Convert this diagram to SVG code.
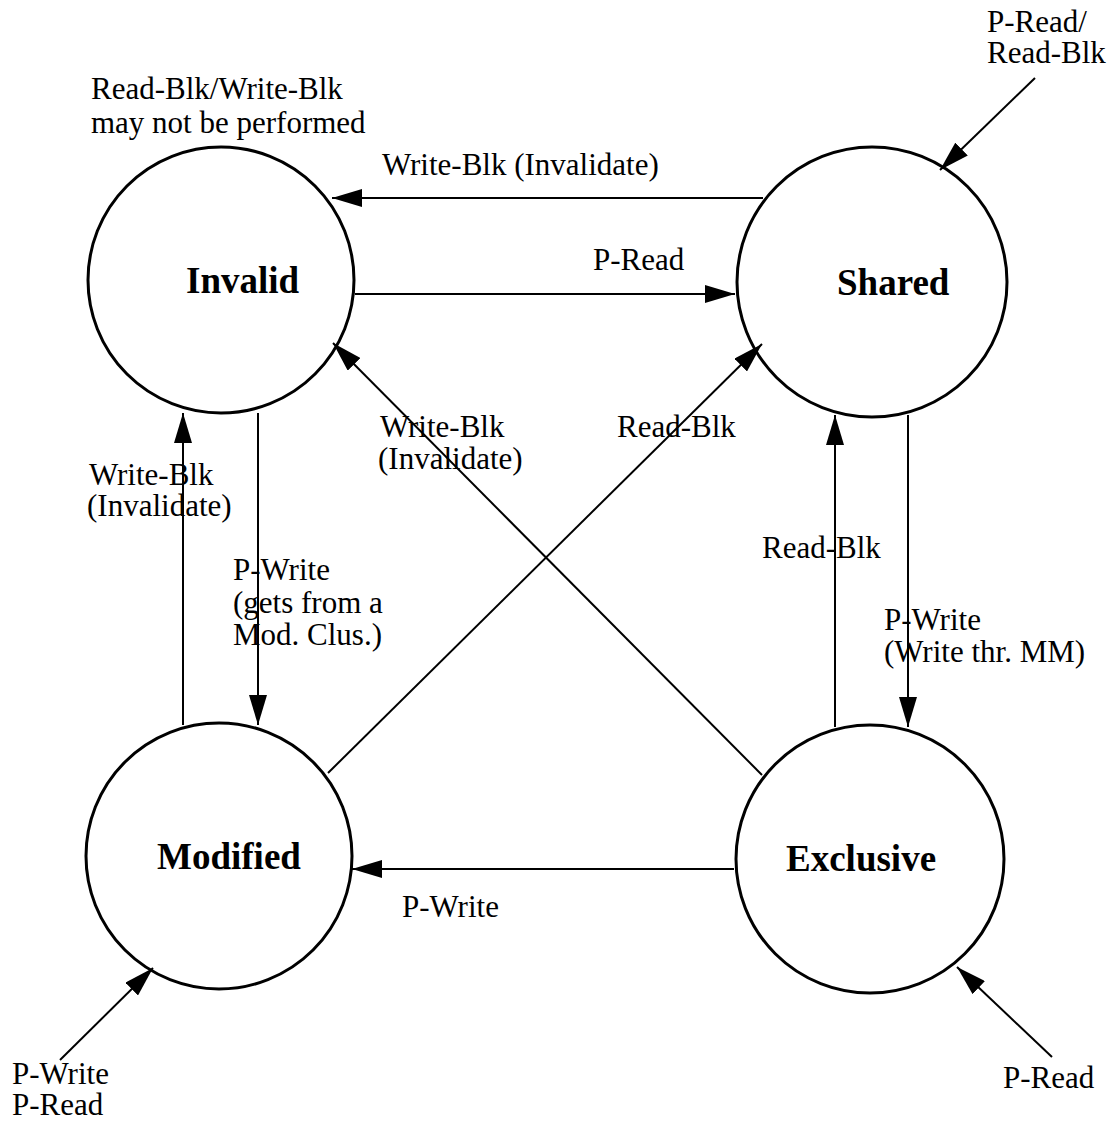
<svg xmlns="http://www.w3.org/2000/svg" width="1117" height="1122" viewBox="0 0 1117 1122">
  <style>
    .state { fill: #fff; stroke: #000; stroke-width: 3; }
    .name { font-family: "Liberation Serif", "Times New Roman", serif; font-weight: bold; font-size: 37px; fill: #000; }
    .lbl { font-family: "Liberation Serif", "Times New Roman", serif; font-size: 31px; fill: #000; }
    .edge { stroke: #000; stroke-width: 2; fill: none; marker-end: url(#ah); }
  </style>
  <defs>
    <marker id="ah" markerUnits="userSpaceOnUse" markerWidth="30" markerHeight="18" refX="30" refY="9" orient="auto">
      <path d="M0,0 L30,9 L0,18 Z" fill="#000"/>
    </marker>
  </defs>
  <rect width="1117" height="1122" fill="#fff"/>

  <!-- states -->
  <g id="invalid">
    <circle class="state" cx="221" cy="280" r="133"/>
    <text class="name" x="186" y="293">Invalid</text>
  </g>
  <g id="shared">
    <circle class="state" cx="872" cy="282" r="135"/>
    <text class="name" x="837" y="295">Shared</text>
  </g>
  <g id="modified">
    <circle class="state" cx="219" cy="856" r="133"/>
    <text class="name" x="157" y="869">Modified</text>
  </g>
  <g id="exclusive">
    <circle class="state" cx="870" cy="859" r="134"/>
    <text class="name" x="786" y="871">Exclusive</text>
  </g>

  <!-- transitions -->
  <g id="connectors">
    <line class="edge" x1="763" y1="198" x2="332" y2="198"/>
    <line class="edge" x1="355" y1="294" x2="735" y2="294"/>
    <line class="edge" x1="183" y1="725" x2="183" y2="413"/>
    <line class="edge" x1="258" y1="413" x2="258" y2="725"/>
    <line class="edge" x1="835" y1="727" x2="835" y2="415"/>
    <line class="edge" x1="908" y1="415" x2="908" y2="727"/>
    <line class="edge" x1="734" y1="869" x2="352" y2="869"/>
    <line class="edge" x1="762" y1="775" x2="333" y2="343"/>
    <line class="edge" x1="328" y1="773" x2="762" y2="344"/>
    <line class="edge" x1="1035" y1="78" x2="940" y2="170"/>
    <line class="edge" x1="60" y1="1060" x2="153" y2="968"/>
    <line class="edge" x1="1052" y1="1057" x2="957" y2="967"/>
  </g>

  <!-- labels -->
  <g id="labels">
    <text class="lbl" x="91" y="99">Read-Blk/Write-Blk</text>
    <text class="lbl" x="91" y="133">may not be performed</text>
    <text class="lbl" x="987" y="32">P-Read/</text>
    <text class="lbl" x="987" y="63">Read-Blk</text>
    <text class="lbl" x="382" y="175">Write-Blk (Invalidate)</text>
    <text class="lbl" x="593" y="270">P-Read</text>
    <text class="lbl" x="89" y="485">Write-Blk</text>
    <text class="lbl" x="87" y="516">(Invalidate)</text>
    <text class="lbl" x="233" y="580">P-Write</text>
    <text class="lbl" x="233" y="613">(gets from a</text>
    <text class="lbl" x="233" y="645">Mod. Clus.)</text>
    <text class="lbl" x="380" y="437">Write-Blk</text>
    <text class="lbl" x="378" y="469">(Invalidate)</text>
    <text class="lbl" x="617" y="437">Read-Blk</text>
    <text class="lbl" x="762" y="558">Read-Blk</text>
    <text class="lbl" x="884" y="630">P-Write</text>
    <text class="lbl" x="884" y="662">(Write thr. MM)</text>
    <text class="lbl" x="402" y="917">P-Write</text>
    <text class="lbl" x="12" y="1084">P-Write</text>
    <text class="lbl" x="12" y="1115">P-Read</text>
    <text class="lbl" x="1003" y="1088">P-Read</text>
  </g>
</svg>
